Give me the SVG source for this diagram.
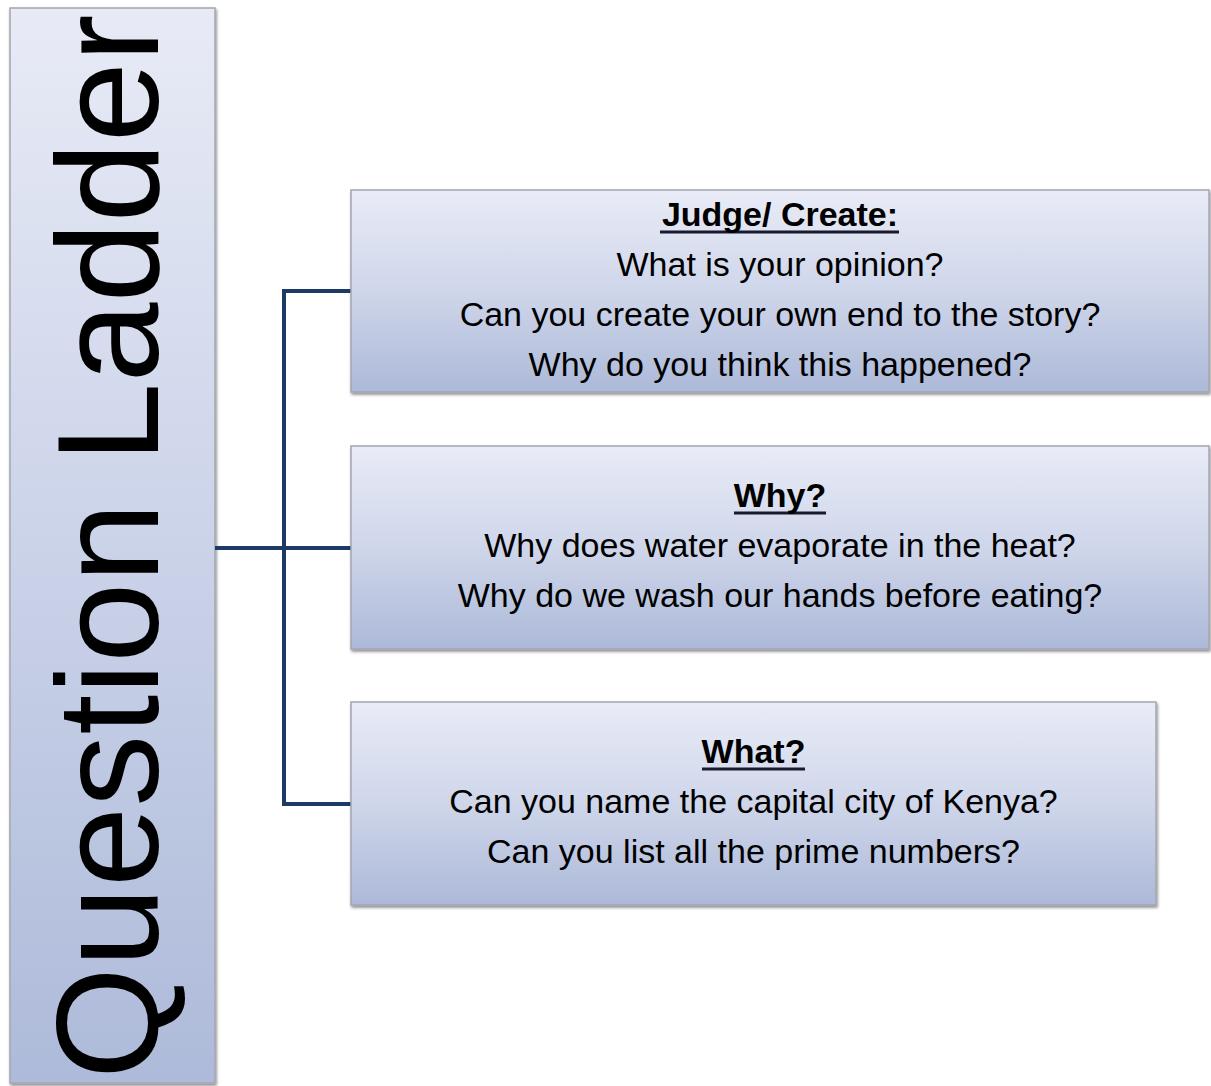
<svg xmlns="http://www.w3.org/2000/svg" width="1211" height="1086" viewBox="0 0 1211 1086">
  <defs>
    <linearGradient id="fillV" x1="0" y1="0" x2="0" y2="1">
      <stop offset="0" stop-color="#e9ecf7"/>
      <stop offset="0.5" stop-color="#cfd6ea"/>
      <stop offset="1" stop-color="#acb9d8"/>
    </linearGradient>
    <linearGradient id="fillSide" x1="0" y1="0" x2="0" y2="1">
      <stop offset="0" stop-color="#e8ebf6"/>
      <stop offset="0.5" stop-color="#cbd3e9"/>
      <stop offset="1" stop-color="#adbad9"/>
    </linearGradient>
    <filter id="shadow" x="-5%" y="-5%" width="110%" height="115%">
      <feGaussianBlur in="SourceAlpha" stdDeviation="1.5"/>
      <feOffset dx="1" dy="2" result="b"/>
      <feComponentTransfer><feFuncA type="linear" slope="0.45"/></feComponentTransfer>
      <feMerge><feMergeNode/><feMergeNode in="SourceGraphic"/></feMerge>
    </filter>
    <filter id="ulShadow" x="-5%" y="-100%" width="110%" height="400%">
      <feGaussianBlur stdDeviation="1"/>
    </filter>
  </defs>
  <style>
    .box { stroke: #a3a7b0; stroke-width: 1.5; filter: url(#shadow); }
    .txt { font-family: "Liberation Sans", Arial, sans-serif; font-size: 34px; fill: #000; text-anchor: middle; }
    .hd { font-weight: bold; }
    .ul { stroke: #1a1a2e; stroke-width: 3; }
    .uls { stroke: #5a6a90; stroke-width: 3; opacity: 0.7; filter: url(#ulShadow); }
    .conn { fill: none; stroke: #1b3a66; stroke-width: 4; }
  </style>

  <!-- side title bar -->
  <g id="title">
    <rect class="box" x="10" y="8" width="205" height="1075" fill="url(#fillSide)"/>
    <text transform="translate(158,1079) rotate(-90)" font-family="'Liberation Sans', Arial, sans-serif" font-size="144" fill="#000">Question Ladder</text>
  </g>

  <!-- connectors -->
  <g id="connectors">
    <line class="conn" x1="215" y1="548" x2="351" y2="548"/>
    <polyline class="conn" points="351,291 284,291 284,804 351,804"/>
  </g>

  <g id="judge">
    <rect class="box" x="351" y="190" width="858" height="202" fill="url(#fillV)"/>
    <line class="uls" x1="660" y1="236" x2="901" y2="236"/>
    <line class="ul" x1="660" y1="232" x2="899" y2="232"/>
    <text class="txt hd" x="780" y="226">Judge/ Create:</text>
    <text class="txt" x="780" y="276">What is your opinion?</text>
    <text class="txt" x="780" y="326">Can you create your own end to the story?</text>
    <text class="txt" x="780" y="376">Why do you think this happened?</text>
  </g>

  <g id="why">
    <rect class="box" x="351" y="446" width="858" height="203" fill="url(#fillV)"/>
    <line class="uls" x1="734" y1="517" x2="828" y2="517"/>
    <line class="ul" x1="734" y1="513" x2="826" y2="513"/>
    <text class="txt hd" x="780" y="507">Why?</text>
    <text class="txt" x="780" y="557">Why does water evaporate in the heat?</text>
    <text class="txt" x="780" y="607">Why do we wash our hands before eating?</text>
  </g>

  <g id="what">
    <rect class="box" x="351" y="702" width="805" height="203" fill="url(#fillV)"/>
    <line class="uls" x1="702" y1="773" x2="807" y2="773"/>
    <line class="ul" x1="702" y1="769" x2="805" y2="769"/>
    <text class="txt hd" x="753.5" y="763">What?</text>
    <text class="txt" x="753.5" y="813">Can you name the capital city of Kenya?</text>
    <text class="txt" x="753.5" y="863">Can you list all the prime numbers?</text>
  </g>
</svg>
